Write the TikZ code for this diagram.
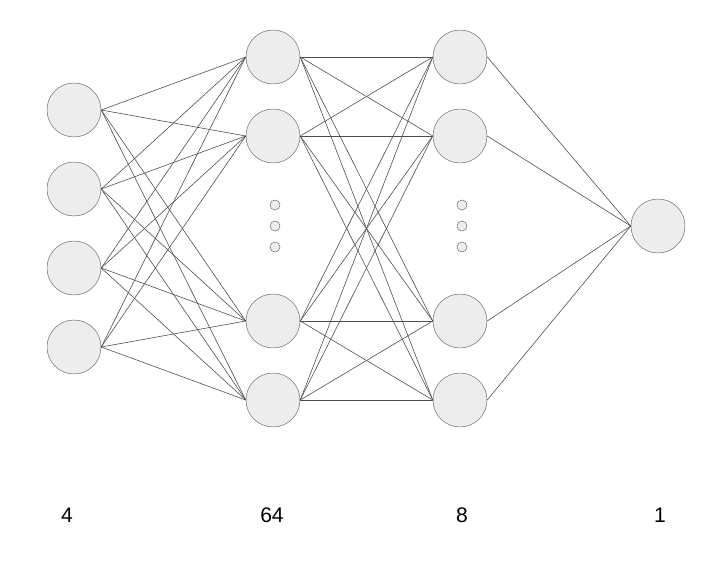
\documentclass[tikz,border=0pt]{standalone}
\usepackage{fontspec}
\setmainfont{Liberation Sans}
\usetikzlibrary{positioning}

\begin{document}
\begin{tikzpicture}[x=0.03cm, y=-0.03cm,
	neuron/.style={circle, draw=black!60, fill=black!7, minimum size=1.62cm, inner sep=0pt},
	dotnode/.style={circle, draw=black!60, fill=black!7, minimum size=0.3cm, inner sep=0pt},
	link/.style={draw=black!70, line width=0.5pt},
	count/.style={font=\fontsize{18}{21}\selectfont},
]
\useasboundingbox (0,0) rectangle (719,561);
% layers
\foreach \i/\y in {1/110, 2/189, 3/268, 4/347}
	\node [neuron] (I\i) at (74,\y) {};
\foreach \i/\y in {1/57, 2/136, 3/321, 4/400} {
	\node [neuron] (A\i) at (273,\y) {};
	\node [neuron] (B\i) at (460,\y) {};
}
\node [neuron] (O) at (658,226) {};
\foreach \i/\y in {1/205, 2/226, 3/247} {
	\node [dotnode] (da\i) at (275,\y) {};
	\node [dotnode] (db\i) at (462,\y) {};
}
%
\foreach \i in {1,...,4}
	\foreach \j in {1,...,4} {
		\draw [link] (I\i.east) -- (A\j.west);
		\draw [link] (A\i.east) -- (B\j.west);
	}
\foreach \j in {1,...,4}
	\draw [link] (B\j.east) -- (O.west);
%
\node [count] (n4)  at (67,515)  {4};
\node [count] (n64) at (272,515) {64};
\node [count] (n8)  at (462,515) {8};
\node [count] (n1)  at (660,515) {1};
\end{tikzpicture}
\end{document}
